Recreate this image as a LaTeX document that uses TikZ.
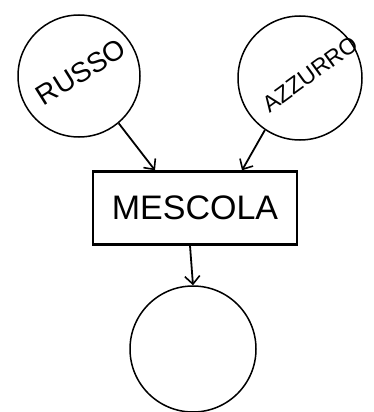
\documentclass[tikz,border=0pt]{standalone}
\usepackage{fontspec}
\setmainfont{Liberation Sans}
\usetikzlibrary{arrows.meta}
\begin{document}
\begin{tikzpicture}[x=1pt,y=-1pt,line width=1.8pt,
  bolla/.style={draw,circle,inner sep=0pt,line width=1.5pt},
  freccia/.style={-{Straight Barb[length=8pt,width=15pt,line width=1.6pt]}}]
\useasboundingbox (0,0) rectangle (373,412);
\node[bolla,minimum size=122pt] (russo) at (79,76) {};
\node[bolla,minimum size=124pt] (azzurro) at (300,78) {};
\node[draw,line width=2.4pt,minimum width=204pt,minimum height=73pt,inner sep=0pt] (mescola) at (195,208) {\fontsize{34}{34}\selectfont MESCOLA};
\node[bolla,minimum size=126pt] (uscita) at (193,349) {};
\node[rotate=32] at (81,72) {\fontsize{28}{28}\selectfont RUSSO};
\node[rotate=36] at (310,74) {\fontsize{23}{23}\selectfont AZZURRO};
\draw[freccia] (russo.-50) -- ([xshift=-40pt]mescola.north);
\draw[freccia] (azzurro.-124) -- ([xshift=47pt]mescola.north);
\draw[freccia] ([xshift=-5pt]mescola.south) -- (uscita.north);
\end{tikzpicture}
\end{document}
